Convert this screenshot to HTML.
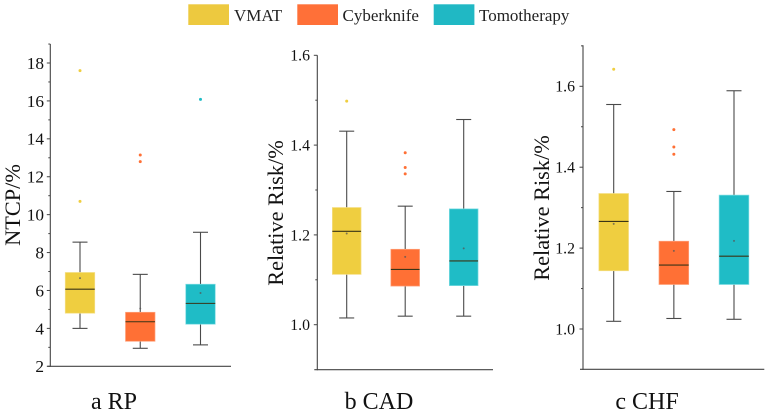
<!DOCTYPE html>
<html>
<head>
<meta charset="utf-8">
<style>
html,body{margin:0;padding:0;background:#fff;}
svg{display:block;font-family:"Liberation Serif",serif;}
</style>
</head>
<body>
<svg id="chart" width="768" height="412" viewBox="0 0 768 412" xmlns="http://www.w3.org/2000/svg">
  <g>
    <rect x="188.3" y="4.3" width="40.7" height="20.7" fill="#EDC93F"/>
    <text x="234" y="21" font-size="17" fill="#222">VMAT</text>
    <rect x="297.3" y="4.3" width="40.7" height="20.7" fill="#FF7038"/>
    <text x="342.5" y="21" font-size="17" fill="#222">Cyberknife</text>
    <rect x="433.7" y="4.3" width="40.7" height="20.7" fill="#20B8C4"/>
    <text x="479" y="21" font-size="17" fill="#222">Tomotherapy</text>
  </g>
</svg>
<script>
const seriesNames = ['VMAT', 'Cyberknife', 'Tomotherapy'];
const seriesColors = ['#EFCE40', '#FF7035', '#1FBCC6'];
const seriesEdges = ['#F5E08A', '#FFA27C', '#7FDDE3'];

const rpTicks = ['2', '4', '6', '8', '10', '12', '14', '16', '18'];
const rpMinorTicks = [3, 5, 7, 9, 11, 13, 15, 17, 19];
const rpLow = [4.0, 2.95, 3.13];
const rpQ1 = [4.8, 3.32, 4.22];
const rpMedian = [6.07, 4.35, 5.32];
const rpQ3 = [6.95, 4.85, 6.33];
const rpHigh = [8.55, 6.85, 9.07];
const rpMean = [6.65, 5.05, 5.87];
const rpOutliers = [[17.6, 10.7], [13.15, 12.8], [16.08]];

const cadTicks = ['1.0', '1.2', '1.4', '1.6'];
const cadMinorTicks = [1.1, 1.3, 1.5];
const cadLow = [1.015, 1.019, 1.019];
const cadQ1 = [1.112, 1.086, 1.087];
const cadMedian = [1.208, 1.123, 1.142];
const cadQ3 = [1.261, 1.168, 1.258];
const cadHigh = [1.431, 1.264, 1.457];
const cadMean = [1.203, 1.151, 1.17];
const cadOutliers = [[1.498], [1.383, 1.35, 1.336], []];

const chfTicks = ['1.0', '1.2', '1.4', '1.6'];
const chfMinorTicks = [1.1, 1.3, 1.5, 1.7];
const chfLow = [1.019, 1.026, 1.024];
const chfQ1 = [1.144, 1.11, 1.11];
const chfMedian = [1.266, 1.158, 1.18];
const chfQ3 = [1.335, 1.217, 1.331];
const chfHigh = [1.555, 1.34, 1.589];
const chfMean = [1.26, 1.193, 1.218];
const chfOutliers = [[1.642], [1.493, 1.45, 1.432], []];

const NS = 'http://www.w3.org/2000/svg';
const root = document.getElementById('chart');

function make(parent, tag, attrs) {
  const el = document.createElementNS(NS, tag);
  for (const k in attrs) el.setAttribute(k, attrs[k]);
  parent.appendChild(el);
  return el;
}

function drawPanel(p) {
  const group = make(root, 'g', {});
  
  

  const yScale = v => p.y0 + (v - p.v0) * (p.y1 - p.y0) / (p.v1 - p.v0);
  const xScale = i => p.xFirst + i * p.xStep;
  const axisColor = '#444';

  const yAxis = make(group, 'line', {x1: p.axisX, x2: p.axisX, y1: p.axisTop, y2: p.axisBottom + 0.6, stroke: axisColor, 'stroke-width': 1.1});
  
  
  const xAxis = make(group, 'line', {x1: p.axisX - 3, x2: p.axisRight, y1: p.axisBottom, y2: p.axisBottom, stroke: axisColor, 'stroke-width': 1.1});
  
  

  p.ticks.forEach(t => {
    const y = yScale(parseFloat(t));
    const tick = make(group, 'line', {x1: p.axisX - 3.5, x2: p.axisX, y1: y, y2: y, stroke: axisColor, 'stroke-width': 1});
    
    
    const label = make(group, 'text', {x: p.axisX - p.tickGap, y: y + p.tickFont * 0.34, 'text-anchor': 'end', 'font-size': p.tickFont, fill: '#111'});
    label.textContent = t;
    
    
  });
  p.minor.forEach(t => {
    const y = yScale(t);
    const tick = make(group, 'line', {x1: p.axisX - 2, x2: p.axisX, y1: y, y2: y, stroke: axisColor, 'stroke-width': 1});
    
    
  });

  const yTitle = make(group, 'text', {transform: 'translate(' + p.titleX + ',' + p.titleY + ') rotate(-90)', 'text-anchor': 'middle', 'font-size': 22.3, fill: '#111'});
  yTitle.textContent = p.title;
  
  

  const caption = make(group, 'text', {x: p.captionX, y: 409, 'text-anchor': 'middle', 'font-size': 24, fill: '#111'});
  caption.textContent = p.caption;
  
  

  seriesNames.forEach((name, i) => {
    const cx = xScale(i);
    const slug = p.id + '-' + name.toLowerCase();
    const hw = p.boxW / 2;
    const capW = 7.5;

    const whisker = make(group, 'line', {x1: cx, x2: cx, y1: yScale(p.high[i]), y2: yScale(p.low[i]), stroke: '#4a4a4a', 'stroke-width': 1.1});
    
    
    const capHigh = make(group, 'line', {x1: cx - capW, x2: cx + capW, y1: yScale(p.high[i]), y2: yScale(p.high[i]), stroke: '#4a4a4a', 'stroke-width': 1.1});
    
    
    const capLow = make(group, 'line', {x1: cx - capW, x2: cx + capW, y1: yScale(p.low[i]), y2: yScale(p.low[i]), stroke: '#4a4a4a', 'stroke-width': 1.1});
    
    

    const box = make(group, 'rect', {x: cx - hw, y: yScale(p.q3[i]), width: p.boxW, height: yScale(p.q1[i]) - yScale(p.q3[i]), fill: seriesColors[i], stroke: seriesEdges[i], 'stroke-width': 0.7});
    
    

    const median = make(group, 'line', {x1: cx - hw, x2: cx + hw, y1: yScale(p.median[i]), y2: yScale(p.median[i]), stroke: '#3a3416', 'stroke-width': 1.1});
    
    

    const mean = make(group, 'circle', {cx: cx, cy: yScale(p.mean[i]), r: 1, fill: '#555', opacity: 0.75});
    
    

    p.outliers[i].forEach(v => {
      const o = make(group, 'circle', {cx: cx, cy: yScale(v), r: 1.5, fill: seriesColors[i]});
      
      
    });
  });
}

drawPanel({
  id: 'rp', title: 'NTCP/%', caption: 'a RP', captionX: 114, titleX: 20, titleY: 205, tickFont: 17.3, tickGap: 6.3,
  axisX: 50.3, axisTop: 44, axisBottom: 366.3, axisRight: 231,
  v0: 2, y0: 366.3, v1: 18, y1: 63,
  xFirst: 80, xStep: 60.25, boxW: 29.5,
  ticks: rpTicks, minor: rpMinorTicks, low: rpLow, q1: rpQ1, median: rpMedian, q3: rpQ3, high: rpHigh, mean: rpMean, outliers: rpOutliers
});
drawPanel({
  id: 'cad', title: 'Relative Risk/%', caption: 'b CAD', captionX: 379, titleX: 283, titleY: 213, tickFont: 15.8, tickGap: 7.3,
  axisX: 317.3, axisTop: 55.3, axisBottom: 369.7, axisRight: 493,
  v0: 1.0, y0: 324.7, v1: 1.6, y1: 55.3,
  xFirst: 346.7, xStep: 58.5, boxW: 28.7,
  ticks: cadTicks, minor: cadMinorTicks, low: cadLow, q1: cadQ1, median: cadMedian, q3: cadQ3, high: cadHigh, mean: cadMean, outliers: cadOutliers
});
drawPanel({
  id: 'chf', title: 'Relative Risk/%', caption: 'c CHF', captionX: 647, titleX: 549, titleY: 208, tickFont: 15.8, tickGap: 8,
  axisX: 583, axisTop: 45.3, axisBottom: 369.3, axisRight: 764.3,
  v0: 1.0, y0: 329, v1: 1.6, y1: 86.3,
  xFirst: 613.7, xStep: 60.15, boxW: 29.7,
  ticks: chfTicks, minor: chfMinorTicks, low: chfLow, q1: chfQ1, median: chfMedian, q3: chfQ3, high: chfHigh, mean: chfMean, outliers: chfOutliers
});
</script>
</body>
</html>
